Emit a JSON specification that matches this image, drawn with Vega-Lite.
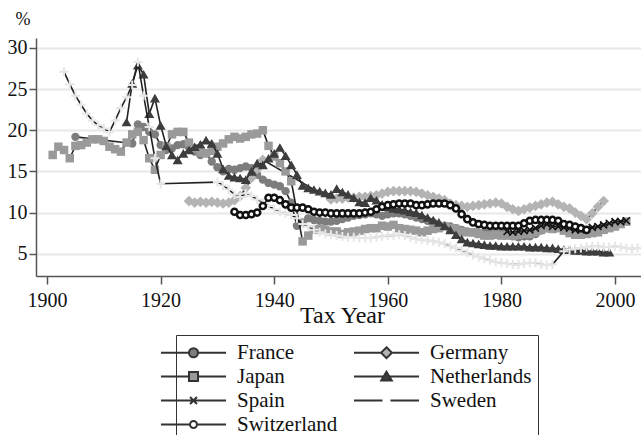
{
  "$schema": "https://vega.github.io/schema/vega-lite/v6.json",
  "width": 605,
  "height": 238,
  "autosize": {"type": "none"},
  "padding": {"left": 36, "top": 38, "right": 0, "bottom": 159},
  "background": "white",
  "config": {
    "view": {"stroke": null},
    "font": "Liberation Serif",
    "legend": {"labelFont": "Liberation Serif", "labelFontSize": 21}
  },
  "datasets": {
    "France": [
      {"yr":1905,"v":19.2},{"yr":1915,"v":18.4},{"yr":1916,"v":20.7},{"yr":1917,"v":20.4},{"yr":1918,"v":19.8},{"yr":1919,"v":19.5},{"yr":1920,"v":18.2},{"yr":1921,"v":17.6},{"yr":1922,"v":17.8},{"yr":1923,"v":18.2},{"yr":1924,"v":18.3},{"yr":1925,"v":17.9},{"yr":1926,"v":17.4},{"yr":1927,"v":17.0},{"yr":1928,"v":17.2},{"yr":1929,"v":16.2},{"yr":1930,"v":15.5},{"yr":1931,"v":15.0},{"yr":1932,"v":15.3},{"yr":1933,"v":15.2},{"yr":1934,"v":15.4},{"yr":1935,"v":15.6},{"yr":1936,"v":15.4},{"yr":1937,"v":14.6},{"yr":1938,"v":14.0},{"yr":1939,"v":13.6},{"yr":1940,"v":13.4},{"yr":1941,"v":13.2},{"yr":1942,"v":12.6},{"yr":1943,"v":11.2},{"yr":1944,"v":8.4},{"yr":1945,"v":8.8},{"yr":1946,"v":9.3},{"yr":1947,"v":9.1},{"yr":1948,"v":9.0},{"yr":1949,"v":8.9},{"yr":1950,"v":8.9},{"yr":1951,"v":9.0},{"yr":1952,"v":9.2},{"yr":1953,"v":9.4},{"yr":1954,"v":9.6},{"yr":1955,"v":9.7},{"yr":1956,"v":9.8},{"yr":1957,"v":9.9},{"yr":1958,"v":9.8},{"yr":1959,"v":9.6},{"yr":1960,"v":9.8},{"yr":1961,"v":9.9},{"yr":1962,"v":9.9},{"yr":1963,"v":9.8},{"yr":1964,"v":9.6},{"yr":1965,"v":9.4},{"yr":1966,"v":9.2},{"yr":1967,"v":9.0},{"yr":1968,"v":8.8},{"yr":1969,"v":8.5},{"yr":1970,"v":8.4},{"yr":1971,"v":8.3},{"yr":1972,"v":8.1},{"yr":1973,"v":7.9},{"yr":1974,"v":7.7},{"yr":1975,"v":7.6},{"yr":1976,"v":7.5},{"yr":1977,"v":7.6},{"yr":1978,"v":7.6},{"yr":1979,"v":7.6},{"yr":1980,"v":7.6},{"yr":1981,"v":7.3},{"yr":1982,"v":7.1},{"yr":1983,"v":7.0},{"yr":1984,"v":7.1},{"yr":1985,"v":7.1},{"yr":1986,"v":7.4},{"yr":1987,"v":7.8},{"yr":1988,"v":8.1},{"yr":1989,"v":8.2},{"yr":1990,"v":8.2},{"yr":1991,"v":8.0},{"yr":1992,"v":7.8},{"yr":1993,"v":7.7},{"yr":1994,"v":7.7},{"yr":1995,"v":7.6},{"yr":1996,"v":7.7},{"yr":1997,"v":8.0},{"yr":1998,"v":8.2}
    ],
    "Germany": [
      {"yr":1925,"v":11.4},{"yr":1926,"v":11.2},{"yr":1927,"v":11.3},{"yr":1928,"v":11.2},{"yr":1929,"v":11.3},{"yr":1930,"v":11.2},{"yr":1931,"v":11.1},{"yr":1932,"v":11.2},{"yr":1933,"v":11.5},{"yr":1934,"v":12.0},{"yr":1935,"v":13.0},{"yr":1936,"v":14.2},{"yr":1937,"v":15.3},{"yr":1938,"v":16.4},{"yr":1950,"v":11.6},{"yr":1951,"v":11.7},{"yr":1952,"v":11.7},{"yr":1953,"v":11.8},{"yr":1954,"v":11.8},{"yr":1955,"v":11.9},{"yr":1956,"v":11.9},{"yr":1957,"v":12.0},{"yr":1958,"v":12.1},{"yr":1959,"v":12.3},{"yr":1960,"v":12.5},{"yr":1961,"v":12.6},{"yr":1962,"v":12.6},{"yr":1963,"v":12.6},{"yr":1964,"v":12.6},{"yr":1965,"v":12.5},{"yr":1966,"v":12.3},{"yr":1967,"v":12.1},{"yr":1968,"v":11.9},{"yr":1969,"v":11.7},{"yr":1970,"v":11.5},{"yr":1971,"v":11.1},{"yr":1972,"v":10.9},{"yr":1973,"v":10.8},{"yr":1974,"v":10.7},{"yr":1975,"v":10.8},{"yr":1976,"v":10.9},{"yr":1977,"v":11.0},{"yr":1978,"v":11.1},{"yr":1979,"v":11.2},{"yr":1980,"v":11.1},{"yr":1981,"v":10.7},{"yr":1982,"v":10.4},{"yr":1983,"v":10.2},{"yr":1984,"v":10.4},{"yr":1985,"v":10.6},{"yr":1986,"v":10.8},{"yr":1987,"v":11.0},{"yr":1988,"v":11.2},{"yr":1989,"v":11.3},{"yr":1990,"v":11.0},{"yr":1991,"v":10.7},{"yr":1992,"v":10.5},{"yr":1993,"v":10.0},{"yr":1994,"v":9.6},{"yr":1995,"v":9.2},{"yr":1996,"v":9.9},{"yr":1997,"v":10.7},{"yr":1998,"v":11.4}
    ],
    "Japan": [
      {"yr":1901,"v":17.0},{"yr":1902,"v":18.0},{"yr":1903,"v":17.6},{"yr":1904,"v":16.6},{"yr":1905,"v":18.1},{"yr":1906,"v":18.2},{"yr":1907,"v":18.5},{"yr":1908,"v":18.9},{"yr":1909,"v":18.9},{"yr":1910,"v":18.7},{"yr":1911,"v":18.0},{"yr":1912,"v":17.7},{"yr":1913,"v":17.4},{"yr":1914,"v":18.5},{"yr":1915,"v":19.5},{"yr":1916,"v":19.8},{"yr":1917,"v":18.8},{"yr":1918,"v":16.6},{"yr":1919,"v":15.2},{"yr":1920,"v":17.0},{"yr":1921,"v":18.0},{"yr":1922,"v":19.5},{"yr":1923,"v":19.8},{"yr":1924,"v":19.8},{"yr":1925,"v":18.5},{"yr":1926,"v":17.8},{"yr":1927,"v":17.3},{"yr":1928,"v":17.2},{"yr":1929,"v":17.5},{"yr":1930,"v":18.0},{"yr":1931,"v":18.4},{"yr":1932,"v":18.9},{"yr":1933,"v":19.2},{"yr":1934,"v":19.0},{"yr":1935,"v":19.2},{"yr":1936,"v":19.5},{"yr":1937,"v":19.6},{"yr":1938,"v":20.0},{"yr":1939,"v":18.1},{"yr":1940,"v":16.8},{"yr":1941,"v":16.0},{"yr":1942,"v":15.0},{"yr":1943,"v":13.8},{"yr":1945,"v":6.5},{"yr":1946,"v":7.2},{"yr":1947,"v":7.9},{"yr":1948,"v":8.0},{"yr":1949,"v":7.9},{"yr":1950,"v":7.7},{"yr":1951,"v":7.7},{"yr":1952,"v":7.4},{"yr":1953,"v":7.6},{"yr":1954,"v":7.7},{"yr":1955,"v":7.8},{"yr":1956,"v":8.0},{"yr":1957,"v":8.1},{"yr":1958,"v":8.1},{"yr":1959,"v":8.4},{"yr":1960,"v":8.3},{"yr":1961,"v":8.5},{"yr":1962,"v":8.1},{"yr":1963,"v":8.0},{"yr":1964,"v":7.9},{"yr":1965,"v":7.8},{"yr":1966,"v":7.6},{"yr":1967,"v":7.8},{"yr":1968,"v":8.0},{"yr":1969,"v":8.1},{"yr":1970,"v":8.3},{"yr":1971,"v":8.1},{"yr":1972,"v":8.0},{"yr":1973,"v":7.7},{"yr":1974,"v":7.6},{"yr":1975,"v":7.6},{"yr":1976,"v":7.4},{"yr":1977,"v":7.2},{"yr":1978,"v":7.2},{"yr":1979,"v":7.3},{"yr":1980,"v":7.2},{"yr":1981,"v":7.2},{"yr":1982,"v":7.2},{"yr":1983,"v":7.3},{"yr":1984,"v":7.4},{"yr":1985,"v":7.4},{"yr":1986,"v":7.6},{"yr":1987,"v":7.9},{"yr":1988,"v":8.1},{"yr":1989,"v":8.0},{"yr":1990,"v":8.1},{"yr":1991,"v":7.8},{"yr":1992,"v":7.5},{"yr":1993,"v":7.3},{"yr":1994,"v":7.3},{"yr":1995,"v":7.4},{"yr":1996,"v":7.5},{"yr":1997,"v":7.6},{"yr":1998,"v":7.9},{"yr":1999,"v":8.1},{"yr":2000,"v":8.3},{"yr":2001,"v":8.6},{"yr":2002,"v":8.9}
    ],
    "Netherlands": [
      {"yr":1914,"v":21.0},{"yr":1915,"v":25.7},{"yr":1916,"v":27.9},{"yr":1917,"v":26.8},{"yr":1918,"v":22.0},{"yr":1919,"v":23.9},{"yr":1920,"v":20.6},{"yr":1921,"v":18.1},{"yr":1922,"v":17.0},{"yr":1923,"v":16.4},{"yr":1924,"v":17.2},{"yr":1925,"v":17.6},{"yr":1926,"v":18.0},{"yr":1927,"v":18.3},{"yr":1928,"v":18.8},{"yr":1929,"v":18.4},{"yr":1930,"v":17.2},{"yr":1931,"v":15.3},{"yr":1932,"v":14.5},{"yr":1933,"v":14.3},{"yr":1934,"v":14.2},{"yr":1935,"v":14.0},{"yr":1936,"v":15.0},{"yr":1937,"v":16.0},{"yr":1938,"v":15.8},{"yr":1939,"v":16.6},{"yr":1940,"v":17.2},{"yr":1941,"v":17.9},{"yr":1942,"v":16.9},{"yr":1943,"v":15.8},{"yr":1944,"v":14.6},{"yr":1945,"v":13.3},{"yr":1946,"v":13.0},{"yr":1947,"v":12.8},{"yr":1948,"v":12.6},{"yr":1949,"v":12.4},{"yr":1950,"v":12.2},{"yr":1951,"v":12.9},{"yr":1952,"v":12.5},{"yr":1953,"v":12.2},{"yr":1954,"v":11.8},{"yr":1955,"v":11.3},{"yr":1956,"v":11.2},{"yr":1957,"v":11.8},{"yr":1958,"v":11.5},{"yr":1959,"v":11.0},{"yr":1960,"v":10.7},{"yr":1961,"v":10.5},{"yr":1962,"v":10.4},{"yr":1963,"v":10.3},{"yr":1964,"v":10.1},{"yr":1965,"v":10.0},{"yr":1966,"v":9.7},{"yr":1967,"v":9.4},{"yr":1968,"v":9.1},{"yr":1969,"v":8.8},{"yr":1970,"v":8.4},{"yr":1971,"v":7.9},{"yr":1972,"v":7.3},{"yr":1973,"v":6.8},{"yr":1974,"v":6.4},{"yr":1975,"v":6.3},{"yr":1976,"v":6.2},{"yr":1977,"v":6.1},{"yr":1978,"v":6.0},{"yr":1979,"v":6.0},{"yr":1980,"v":5.9},{"yr":1981,"v":5.9},{"yr":1982,"v":5.9},{"yr":1983,"v":5.9},{"yr":1984,"v":5.9},{"yr":1985,"v":5.8},{"yr":1986,"v":5.8},{"yr":1987,"v":5.8},{"yr":1988,"v":5.7},{"yr":1989,"v":5.7},{"yr":1990,"v":5.6},{"yr":1991,"v":5.5},{"yr":1992,"v":5.5},{"yr":1993,"v":5.4},{"yr":1994,"v":5.4},{"yr":1995,"v":5.3},{"yr":1996,"v":5.3},{"yr":1997,"v":5.3},{"yr":1998,"v":5.2},{"yr":1999,"v":5.2}
    ],
    "Spain": [
      {"yr":1981,"v":7.7},{"yr":1982,"v":7.6},{"yr":1983,"v":7.7},{"yr":1984,"v":7.8},{"yr":1985,"v":7.9},{"yr":1986,"v":8.1},{"yr":1987,"v":8.4},{"yr":1988,"v":8.6},{"yr":1989,"v":8.3},{"yr":1990,"v":8.3},{"yr":1991,"v":8.2},{"yr":1992,"v":8.1},{"yr":1993,"v":7.9},{"yr":1994,"v":7.9},{"yr":1995,"v":8.0},{"yr":1996,"v":8.2},{"yr":1997,"v":8.3},{"yr":1998,"v":8.5},{"yr":1999,"v":8.7},{"yr":2000,"v":8.9},{"yr":2001,"v":8.9},{"yr":2002,"v":9.0}
    ],
    "Sweden": [
      {"yr":1903,"v":27.1},{"yr":1904,"v":25.6},{"yr":1905,"v":24.2},{"yr":1906,"v":23.1},{"yr":1907,"v":22.0},{"yr":1908,"v":21.2},{"yr":1909,"v":20.6},{"yr":1910,"v":20.2},{"yr":1911,"v":19.8},{"yr":1912,"v":21.2},{"yr":1913,"v":22.7},{"yr":1914,"v":24.0},{"yr":1915,"v":25.5},{"yr":1916,"v":28.3},{"yr":1917,"v":24.2},{"yr":1918,"v":20.4},{"yr":1919,"v":16.6},{"yr":1920,"v":13.5},{"yr":1930,"v":13.7},{"yr":1931,"v":13.3},{"yr":1932,"v":12.8},{"yr":1933,"v":12.2},{"yr":1934,"v":11.9},{"yr":1935,"v":12.3},{"yr":1936,"v":12.0},{"yr":1937,"v":11.6},{"yr":1938,"v":11.2},{"yr":1939,"v":10.8},{"yr":1940,"v":10.4},{"yr":1941,"v":10.1},{"yr":1942,"v":9.9},{"yr":1943,"v":9.7},{"yr":1944,"v":9.3},{"yr":1945,"v":8.6},{"yr":1946,"v":8.3},{"yr":1947,"v":7.9},{"yr":1948,"v":7.6},{"yr":1949,"v":7.4},{"yr":1950,"v":7.3},{"yr":1951,"v":7.2},{"yr":1952,"v":7.1},{"yr":1953,"v":7.0},{"yr":1954,"v":7.0},{"yr":1955,"v":6.9},{"yr":1956,"v":6.9},{"yr":1957,"v":6.9},{"yr":1958,"v":7.0},{"yr":1959,"v":7.1},{"yr":1960,"v":7.2},{"yr":1961,"v":7.2},{"yr":1962,"v":7.3},{"yr":1963,"v":7.2},{"yr":1964,"v":7.0},{"yr":1965,"v":6.8},{"yr":1966,"v":6.7},{"yr":1967,"v":6.6},{"yr":1968,"v":6.5},{"yr":1969,"v":6.4},{"yr":1970,"v":6.2},{"yr":1971,"v":5.9},{"yr":1972,"v":5.7},{"yr":1973,"v":5.4},{"yr":1974,"v":5.1},{"yr":1975,"v":4.8},{"yr":1976,"v":4.6},{"yr":1977,"v":4.4},{"yr":1978,"v":4.2},{"yr":1979,"v":4.0},{"yr":1980,"v":3.9},{"yr":1981,"v":3.8},{"yr":1982,"v":3.7},{"yr":1983,"v":3.7},{"yr":1984,"v":3.8},{"yr":1985,"v":3.9},{"yr":1986,"v":3.9},{"yr":1987,"v":3.7},{"yr":1988,"v":3.6},{"yr":1989,"v":3.7},{"yr":1991,"v":5.3},{"yr":1992,"v":5.5},{"yr":1993,"v":5.6},{"yr":1994,"v":5.7},{"yr":1995,"v":5.8},{"yr":1996,"v":5.9},{"yr":1997,"v":5.9},{"yr":1998,"v":5.8},{"yr":1999,"v":5.8},{"yr":2000,"v":5.9},{"yr":2001,"v":5.8},{"yr":2002,"v":5.7},{"yr":2003,"v":5.6},{"yr":2004,"v":5.7}
    ],
    "Switzerland": [
      {"yr":1933,"v":10.1},{"yr":1934,"v":9.7},{"yr":1935,"v":9.7},{"yr":1936,"v":9.8},{"yr":1937,"v":10.0},{"yr":1938,"v":10.8},{"yr":1939,"v":11.8},{"yr":1940,"v":11.8},{"yr":1941,"v":11.5},{"yr":1942,"v":11.0},{"yr":1943,"v":10.6},{"yr":1944,"v":10.6},{"yr":1945,"v":10.6},{"yr":1946,"v":10.4},{"yr":1947,"v":10.1},{"yr":1948,"v":10.0},{"yr":1949,"v":10.0},{"yr":1950,"v":9.9},{"yr":1951,"v":9.9},{"yr":1952,"v":9.9},{"yr":1953,"v":9.9},{"yr":1954,"v":9.9},{"yr":1955,"v":9.9},{"yr":1956,"v":10.0},{"yr":1957,"v":10.1},{"yr":1958,"v":10.4},{"yr":1959,"v":10.7},{"yr":1960,"v":10.9},{"yr":1961,"v":11.0},{"yr":1962,"v":11.1},{"yr":1963,"v":11.1},{"yr":1964,"v":11.1},{"yr":1965,"v":10.9},{"yr":1966,"v":10.9},{"yr":1967,"v":11.0},{"yr":1968,"v":11.1},{"yr":1969,"v":11.1},{"yr":1970,"v":11.1},{"yr":1971,"v":10.9},{"yr":1972,"v":10.5},{"yr":1973,"v":9.8},{"yr":1974,"v":9.2},{"yr":1975,"v":8.8},{"yr":1976,"v":8.6},{"yr":1977,"v":8.5},{"yr":1978,"v":8.4},{"yr":1979,"v":8.4},{"yr":1980,"v":8.4},{"yr":1981,"v":8.4},{"yr":1982,"v":8.4},{"yr":1983,"v":8.4},{"yr":1984,"v":8.7},{"yr":1985,"v":9.0},{"yr":1986,"v":9.1},{"yr":1987,"v":9.1},{"yr":1988,"v":9.1},{"yr":1989,"v":9.1},{"yr":1990,"v":9.0},{"yr":1991,"v":8.6},{"yr":1992,"v":8.5},{"yr":1993,"v":8.3},{"yr":1994,"v":8.1},{"yr":1995,"v":7.9}
    ]
  },
  "encoding": {
    "x": {
      "field": "yr", "type": "quantitative",
      "scale": {"domain": [1898.06, 2004.58], "nice": false, "zero": false},
      "axis": {
        "values": [1900, 1920, 1940, 1960, 1980, 2000], "format": "d", "grid": false, "labelFlush": false,
        "domainColor": "#555555", "domainWidth": 1.5, "tickColor": "#555555", "tickWidth": 1.5, "tickSize": 8,
        "labelFont": "Liberation Serif", "labelFontSize": 20, "labelColor": "#111111", "labelPadding": 6,
        "title": "Tax Year", "titleFont": "Liberation Serif", "titleFontSize": 24, "titleFontWeight": "normal", "titleColor": "#111111",
        "titleBaseline": "alphabetic", "titleAlign": "center", "titleX": 306, "titleY": 46
      }
    },
    "y": {
      "field": "v", "type": "quantitative",
      "scale": {"domain": [2.29, 31.21], "nice": false, "zero": false},
      "axis": {
        "values": [5, 10, 15, 20, 25, 30], "grid": true, "gridColor": "#e8e8e8", "gridWidth": 2,
        "domainColor": "#555555", "domainWidth": 1.5, "tickColor": "#555555", "tickWidth": 1.5, "tickSize": 7,
        "labelFont": "Liberation Serif", "labelFontSize": 20, "labelColor": "#111111", "labelPadding": 2,
        "title": "%", "titleFont": "Liberation Serif", "titleFontSize": 18, "titleFontWeight": "normal", "titleColor": "#111111",
        "titleAngle": 0, "titleAlign": "left", "titleBaseline": "alphabetic", "titleX": -21, "titleY": -14
      }
    }
  },
  "layer": [
    {"data": {"name": "France"}, "mark": {"type": "line", "color": "#222222", "strokeWidth": 1.6}},
    {"data": {"name": "France"}, "mark": {"type": "point", "size": 70, "stroke": "#7d7d7d", "strokeWidth": 0, "opacity": 1},
     "encoding": {
       "fill": {"datum": "France", "scale": {"domain": ["France","Germany","Japan","Netherlands","Spain","Sweden","Switzerland"], "range": ["#7d7d7d","#b4b4b4","#9a9a9a","#3d3d3d","transparent","transparent","#ffffff"]},
         "legend": {
           "orient": "none", "legendX": 140, "legendY": 297, "columns": 2, "direction": "horizontal", "title": null,
           "labelFont": "Liberation Serif", "labelFontSize": 21, "labelColor": "#111111", "labelOffset": 32, "labelLimit": 0,
           "symbolSize": 441, "symbolStrokeWidth": 2, "symbolStrokeColor": "#333333",
           "symbolType": {"expr": "datum.value === 'France' ? 'M-3.1,0H-0.43M0.43,0H3.1M-0.43,0A0.43,0.43,0,1,0,0.43,0A0.43,0.43,0,1,0,-0.43,0Z' : datum.value === 'Germany' ? 'M-3.1,0H-0.52M0.52,0H3.1M0,-0.52L0.52,0L0,0.52L-0.52,0Z' : datum.value === 'Japan' ? 'M-3.1,0H-0.43M0.43,0H3.1M-0.43,-0.43H0.43V0.43H-0.43Z' : datum.value === 'Netherlands' ? 'M-3.1,0H-0.3M0.3,0H3.1M0,-0.45L0.5,0.38L-0.5,0.38Z' : datum.value === 'Spain' ? 'M-3.1,0H3.1M-0.33,-0.33L0.33,0.33M-0.33,0.33L0.33,-0.33' : datum.value === 'Sweden' ? 'M-3.1,0H-0.38M0.38,0H3.1' : 'M-3.1,0H-0.33M0.33,0H3.1M-0.33,0A0.33,0.33,0,1,0,0.33,0A0.33,0.33,0,1,0,-0.33,0Z'"},
           "strokeColor": "#333333", "padding": 6, "rowPadding": 2, "columnPadding": 11
         }}
     }},
    {"data": {"name": "Germany"}, "mark": {"type": "line", "color": "#222222", "strokeWidth": 1.6}},
    {"data": {"name": "Germany"}, "mark": {"type": "point", "shape": "diamond", "size": 115, "stroke": "#b4b4b4", "strokeWidth": 0, "opacity": 1},
     "encoding": {"fill": {"datum": "Germany"}}},
    {"data": {"name": "Japan"}, "mark": {"type": "line", "color": "#222222", "strokeWidth": 1.6}},
    {"data": {"name": "Japan"}, "mark": {"type": "point", "shape": "square", "size": 72, "stroke": "#9a9a9a", "strokeWidth": 0, "opacity": 1},
     "encoding": {"fill": {"datum": "Japan"}}},
    {"data": {"name": "Netherlands"}, "mark": {"type": "line", "color": "#222222", "strokeWidth": 1.6}},
    {"data": {"name": "Netherlands"}, "mark": {"type": "point", "shape": "triangle-up", "size": 100, "stroke": "#3d3d3d", "strokeWidth": 0, "opacity": 1},
     "encoding": {"fill": {"datum": "Netherlands"}}},
    {"data": {"name": "Spain"}, "mark": {"type": "line", "color": "#222222", "strokeWidth": 1.6}},
    {"data": {"name": "Spain"}, "mark": {"type": "point", "shape": "M-1,-1L1,1M-1,1L1,-1", "size": 49, "stroke": "#111111", "strokeWidth": 1.6, "opacity": 1},
     "encoding": {"fill": {"datum": "Spain"}}},
    {"data": {"name": "Sweden"}, "mark": {"type": "line", "color": "#222222", "strokeWidth": 1.6}},
    {"data": {"name": "Sweden"}, "mark": {"type": "point", "shape": "M-1,0H1M0,-1V1", "size": 81, "stroke": "#e6e6e6", "strokeWidth": 2, "opacity": 1},
     "encoding": {"fill": {"datum": "Sweden"}}},
    {"data": {"name": "Switzerland"}, "mark": {"type": "line", "color": "#222222", "strokeWidth": 1.6}},
    {"data": {"name": "Switzerland"}, "mark": {"type": "point", "shape": "circle", "size": 38, "stroke": "#111111", "strokeWidth": 2.5, "opacity": 1},
     "encoding": {"fill": {"datum": "Switzerland"}}}
  ]
}
